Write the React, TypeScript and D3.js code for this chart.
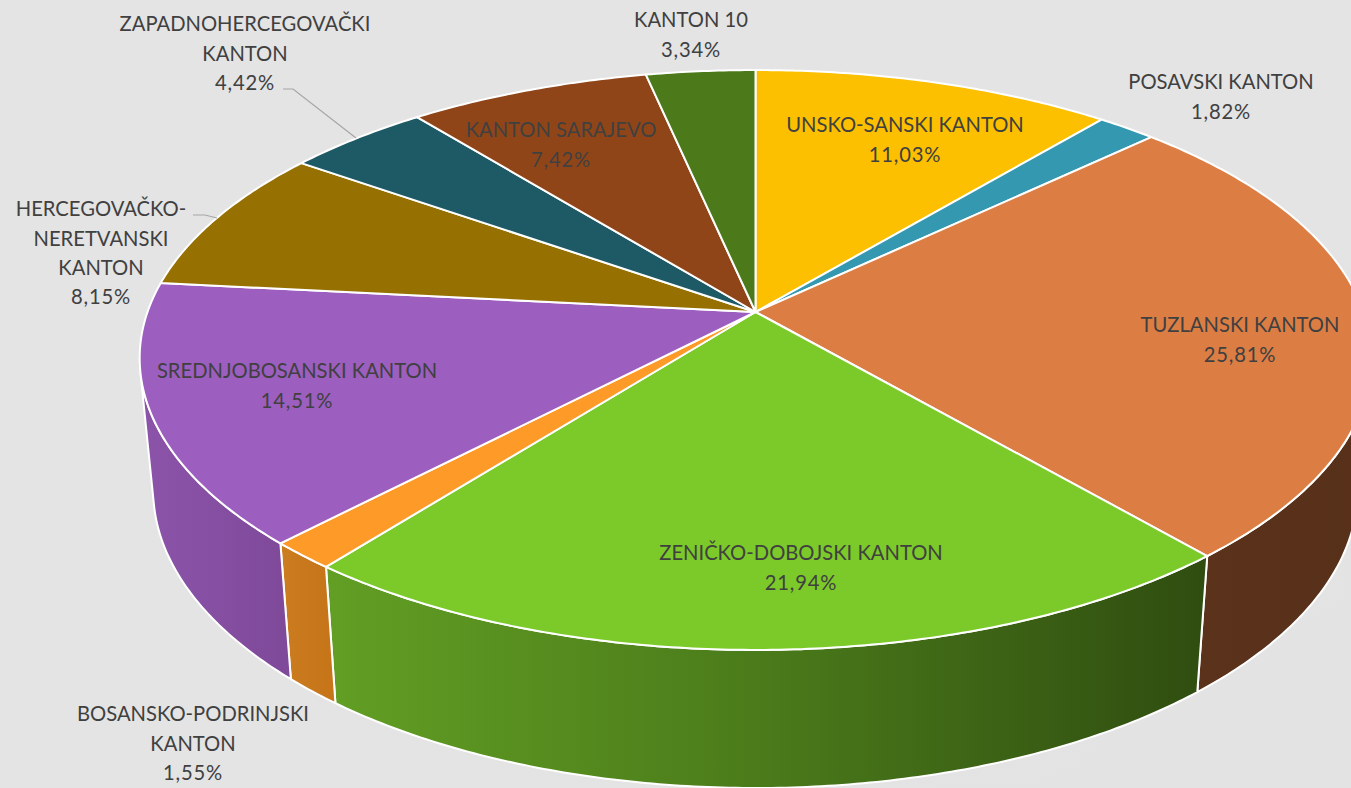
import React from "react";
import * as d3 from "d3";

const categories = [
  ["UNSKO-SANSKI KANTON"],
  ["POSAVSKI KANTON"],
  ["TUZLANSKI KANTON"],
  ["ZENIČKO-DOBOJSKI KANTON"],
  ["BOSANSKO-PODRINJSKI", "KANTON"],
  ["SREDNJOBOSANSKI KANTON"],
  ["HERCEGOVAČKO-", "NERETVANSKI", "KANTON"],
  ["ZAPADNOHERCEGOVAČKI", "KANTON"],
  ["KANTON SARAJEVO"],
  ["KANTON 10"],
];
const shares = [11.03, 1.82, 25.81, 21.94, 1.55, 14.51, 8.15, 4.42, 7.42, 3.34];
const shareLabels = ["11,03%", "1,82%", "25,81%", "21,94%", "1,55%", "14,51%", "8,15%", "4,42%", "7,42%", "3,34%"];

const topColors = ["#fcc000", "#3398b0", "#dc7e44", "#7bca2a", "#fd9a28", "#9c5ebf", "#967000", "#1e5a66", "#904518", "#4c7a1a"];
const wallStops = [
  ["#c99a00", "#c99a00"],
  ["#297a8d", "#297a8d"],
  ["#5c331b", "#57301a"],
  ["#629f24", "#4a7a1a", "#2f4d10"],
  ["#cc7d20", "#c67519"],
  ["#8b54aa", "#804a9b"],
  ["#785a00", "#785a00"],
  ["#184852", "#184852"],
  ["#733713", "#733713"],
  ["#3d6215", "#3d6215"],
];

// first-line centre of each label (x, y) on the page
const labelX = [905, 1221, 1240, 801, 193, 297, 101, 245, 561, 691];
const labelY = [125, 82, 325, 553, 714, 371, 209, 24, 130, 20];
const leaders = [
  [[283, 89], [293, 89], [356, 138]],
  [[193, 215], [205, 215], [217, 218]],
];

const CX = 755.5, CY = 312, A = 608, B = 282, PX = 0.159, PY = 0.1655;
const DEPTH_BASE = 131, DEPTH_SLOPE = 0.021, WALL_SCALE = 0.978;

const top = (t: number): [number, number] => {
  const u = Math.sin(t), v = -Math.cos(t);
  return [CX + (A * u) / (1 - PX * v), CY + (B * v) / (1 - PY * v)];
};
const bottom = (t: number): [number, number] => {
  const [x, y] = top(t);
  return [CX + (x - CX) * WALL_SCALE, y + DEPTH_BASE + DEPTH_SLOPE * (y - CY)];
};
const faces = (t: number) => {
  const p = top(t), q = top(t + 0.001), b = bottom(t);
  return (q[0] - p[0]) * (b[1] - p[1]) - (q[1] - p[1]) * (b[0] - p[0]) < 0;
};
const sample = (a: number, b: number) => {
  const n = Math.max(2, Math.ceil((b - a) / 0.01));
  return d3.range(n + 1).map((i) => a + ((b - a) * i) / n);
};
const line = d3.line<[number, number]>().curve(d3.curveLinearClosed);

export default function App() {
  const arcs = d3.pie<number>().sort(null).startAngle(0).endAngle(2 * Math.PI)(shares);
  return (
    <svg width={1351} height={788} style={{ position: "fixed", left: 0, top: 0, display: "block" }}>
      <defs>
        <linearGradient id="bg" x1="0" y1="0" x2="1" y2="1">
          <stop offset="0" stopColor="#e4e4e4" />
          <stop offset="0.5" stopColor="#e4e4e4" />
          <stop offset="1" stopColor="#e3e3e3" />
        </linearGradient>
        {arcs.map((a, i) => {
          const xs = sample(a.startAngle, a.endAngle).map((t) => top(t)[0]);
          const x0 = d3.min(xs)!, x1 = d3.max(xs)!;
          const n = wallStops[i].length;
          return (
            <linearGradient key={i} id={`wall${i}`} gradientUnits="userSpaceOnUse" x1={x0} x2={x1} y1={0} y2={0}>
              {wallStops[i].map((c, k) => <stop key={k} offset={k / (n - 1)} stopColor={c} />)}
            </linearGradient>
          );
        })}
      </defs>
      <rect width={1351} height={788} fill="url(#bg)" />
      {arcs.map((a, i) => {
        const ts = sample(a.startAngle, a.endAngle).filter(faces);
        if (ts.length < 2) return null;
        const pts = [...ts.map(top), ...ts.slice().reverse().map(bottom)];
        return <path key={i} d={line(pts)!} fill={`url(#wall${i})`} stroke="#fff" strokeWidth={2} strokeLinejoin="round" />;
      })}
      {arcs.map((a, i) => {
        const pts: [number, number][] = [[CX, CY], ...sample(a.startAngle, a.endAngle).map(top)];
        return <path key={i} d={line(pts)!} fill={topColors[i]} stroke="#fff" strokeWidth={2} strokeLinejoin="round" />;
      })}
      {leaders.map((l, i) => (
        <path key={i} d={d3.line()(l as [number, number][])!} fill="none" stroke="#a6a6a6" strokeWidth={1.2} />
      ))}
      <g fontFamily="Lato, sans-serif" fontSize={20.2} fill="#404040" textAnchor="middle">
        {categories.map((lines, i) => (
          <g key={i}>
            {lines.map((s, k) => (
              <text key={k} x={labelX[i]} y={labelY[i] + k * 29.2} dy="0.37em">{s}</text>
            ))}
            <text x={labelX[i]} y={labelY[i] + lines.length * 29.2} dy="0.37em" letterSpacing={0.8}>{shareLabels[i]}</text>
          </g>
        ))}
      </g>
    </svg>
  );
}
